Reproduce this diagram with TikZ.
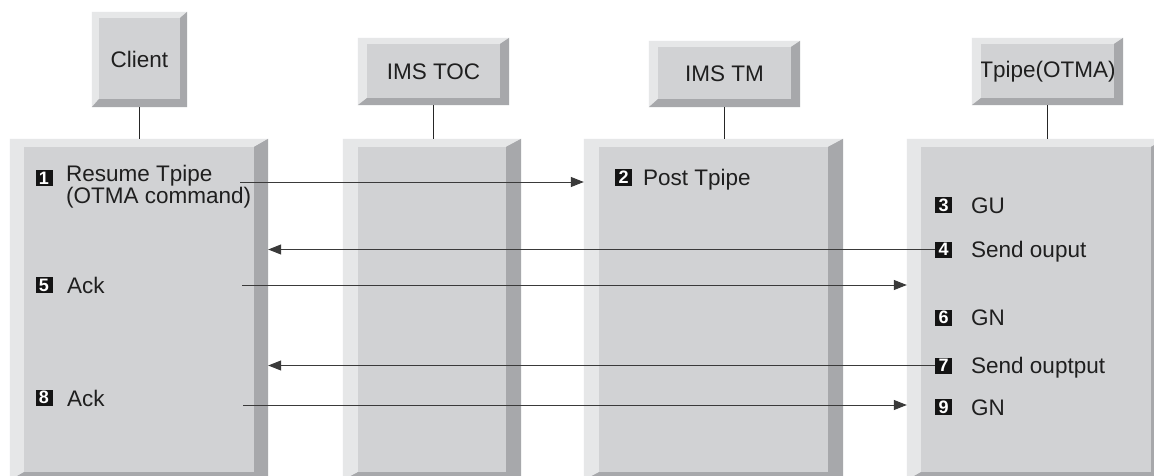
\documentclass[tikz,border=0pt]{standalone}
\usepackage{fontspec}
\setmainfont{Liberation Sans}
\usetikzlibrary{calc,arrows.meta}
\definecolor{face}{HTML}{D1D2D4}
\definecolor{lite}{HTML}{E6E7E8}
\definecolor{dark}{HTML}{A7A8AB}
\definecolor{linec}{HTML}{3A3A3A}
% #1 node name, #2 top band, #3 left band, #4 right band, #5 bottom band
\newcommand\bevelbox[5]{%
  \fill[lite] (#1.north west) -- (#1.north east) -- ($(#1.north east)+(-#4,#2)$)
    -- ($(#1.north west)+(#3,#2)$) -- ($(#1.south west)+(#3,-#5)$) -- (#1.south west) -- cycle;
  \fill[dark] (#1.north east) -- (#1.south east) -- (#1.south west)
    -- ($(#1.south west)+(#3,-#5)$) -- ($(#1.south east)+(-#4,-#5)$) -- ($(#1.north east)+(-#4,#2)$) -- cycle;
}
\begin{document}
\begin{tikzpicture}[x=1pt,y=-1pt,
  panel/.style={rectangle,inner sep=0pt,fill=face,draw=none},
  hdr/.style={panel,font=\fontsize{22.5}{24}\selectfont,text=black!88},
  badge/.style={rectangle,fill=black!92,text=white,inner sep=0pt,minimum width=17pt,minimum height=16pt,font=\fontsize{18}{18}\selectfont\bfseries},
  lbl/.style={inner sep=0pt,anchor=base west,align=left,font=\fontsize{22.5}{16.5}\selectfont,text=black!88},
  stem/.style={line width=1.3pt,black!85},
  arr/.style={line width=1pt,linec,-{Triangle[length=13pt,width=10pt]}}]
\useasboundingbox (0,0) rectangle (1154,476);
\clip (0,0) rectangle (1154,476);
\fill[white] (0,0) rectangle (1154,476);

% header boxes
\node[hdr,minimum width=95pt,minimum height=95pt] (hc) at (139.5,59.5) {Client};
\node[hdr,minimum width=151pt,minimum height=67pt] (htoc) at (433.5,71.5) {IMS TOC};
\node[hdr,minimum width=151pt,minimum height=66pt] (htm) at (724.5,74) {IMS TM};
\node[hdr,minimum width=151pt,minimum height=67pt] (htp) at (1047.5,71.5) {Tpipe(OTMA)};
\bevelbox{hc}{6}{7}{7}{8}
\bevelbox{htoc}{6}{9}{9}{7}
\bevelbox{htm}{6}{9}{9}{8}
\bevelbox{htp}{6}{9}{9}{7}

% column boxes
\node[panel,minimum width=258pt,minimum height=341pt] (cbox) at (139,309.5) {};
\node[panel,minimum width=178pt,minimum height=341pt] (tocbox) at (432,309.5) {};
\node[panel,minimum width=259pt,minimum height=341pt] (tmbox) at (713.5,309.5) {};
\node[panel,minimum width=258pt,minimum height=341pt] (tpbox) at (1036,309.5) {};
\bevelbox{cbox}{8}{14}{14}{8}
\bevelbox{tocbox}{8}{15}{15}{8}
\bevelbox{tmbox}{8}{15}{15}{8}
\bevelbox{tpbox}{8}{14}{14}{8}

% stems
\draw[stem] (hc.south) -- (hc.south |- cbox.north);
\draw[stem] (htoc.south) -- (htoc.south |- tocbox.north);
\draw[stem] (htm.south) -- (htm.south |- tmbox.north);
\draw[stem] (htp.south) -- (htp.south |- tpbox.north);

% client labels
\node[badge] (b1) at (44,178) {1};
\node[lbl] (t1) at (66,203.5) {Resume Tpipe\\(OTMA command)};
\node[badge] (b5) at (44,285) {5};
\node[lbl] (t5) at (67,293) {Ack};
\node[badge] (b8) at (44,397.5) {8};
\node[lbl] (t8) at (67,406) {Ack};

% IMS TM label
\node[badge] (b2) at (623.5,177.5) {2};
\node[lbl] (t2) at (643,185.5) {Post Tpipe};

% Tpipe labels
\node[badge] (b3) at (943.5,205) {3};
\node[lbl] (t3) at (971,213) {GU};
\node[badge] (b4) at (943.5,249.5) {4};
\node[lbl] (t4) at (971,257.5) {Send ouput};
\node[badge] (b6) at (943.5,317.5) {6};
\node[lbl] (t6) at (971,325.5) {GN};
\node[badge] (b7) at (943.5,365.5) {7};
\node[lbl] (t7) at (971,373.5) {Send ouptput};
\node[badge] (b9) at (943.5,407) {9};
\node[lbl] (t9) at (971,415) {GN};

% connectors
\coordinate (s1) at (240,182);
\coordinate (s5) at (242,285);
\coordinate (s8) at (243,405);
\draw[arr] (s1) -- (s1 -| tmbox.west);
\draw[arr] (b4.west) -- (b4.west -| cbox.east);
\draw[arr] (s5) -- (s5 -| tpbox.west);
\draw[arr] (b7.west) -- (b7.west -| cbox.east);
\draw[arr] (s8) -- (s8 -| tpbox.west);
\end{tikzpicture}
\end{document}
